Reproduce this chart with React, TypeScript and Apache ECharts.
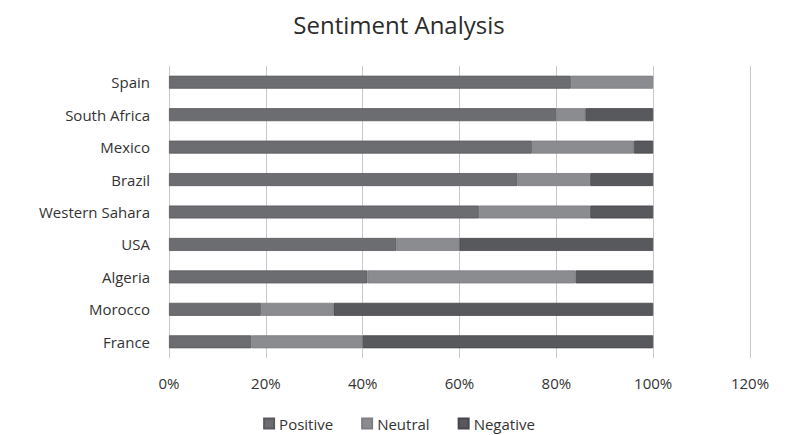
import React, { useEffect, useRef } from "react";
import * as echarts from "echarts";

const categories = ["France", "Morocco", "Algeria", "USA", "Western Sahara", "Brazil", "Mexico", "South Africa", "Spain"];
const positive = [17, 19, 41, 47, 64, 72, 75, 80, 83];
const neutral = [23, 15, 43, 13, 23, 15, 21, 6, 17];
const negative = [60, 66, 16, 40, 13, 13, 4, 14, 0];
const xTicks = [0, 20, 40, 60, 80, 100, 120];

export default function App() {
  const ref = useRef<HTMLDivElement>(null);
  useEffect(() => {
    document.body.style.margin = "0";
    const chart = echarts.init(ref.current!, null, { renderer: "svg" });
    const font = "'Open Sans', sans-serif";
    const mk = (name: string, data: number[], color: string, border: string) => ({
      name,
      type: "bar",
      stack: "total",
      data: data.map((v) => (v === 0 ? "-" : v)),
      barWidth: 13,
      itemStyle: { color, borderColor: border, borderWidth: 0.8 },
    });
    chart.setOption({
      animation: false,
      backgroundColor: "#ffffff",
      title: {
        text: "Sentiment Analysis",
        left: "center",
        top: 7,
        textStyle: { fontFamily: font, fontSize: 24, fontWeight: "normal", color: "#2b2b2b" },
      },
      legend: {
        bottom: -1,
        left: "center",
        itemWidth: 10,
        itemHeight: 10,
        itemGap: 28,
        icon: "rect",
        textStyle: { fontFamily: font, fontSize: 15, color: "#333" },
        data: ["Positive", "Neutral", "Negative"],
      },
      grid: { left: 169, right: 48, top: 66, bottom: 77, containLabel: false },
      xAxis: {
        type: "value",
        min: xTicks[0],
        max: xTicks[xTicks.length - 1],
        interval: 20,
        axisLabel: { formatter: "{value}%", fontFamily: font, fontSize: 15, color: "#333", margin: 17 },
        axisLine: { show: false },
        axisTick: { show: false },
        splitLine: { show: true, lineStyle: { color: "#c9c9cc", width: 1 } },
      },
      yAxis: {
        type: "category",
        data: categories,
        axisLabel: { fontFamily: font, fontSize: 15, color: "#333", margin: 19 },
        axisLine: { show: false },
        axisTick: { show: false },
      },
      series: [
        mk("Positive", positive, "#6c6d70", "#5a5b5e"),
        mk("Neutral", neutral, "#8b8c8f", "#7d7e81"),
        mk("Negative", negative, "#58595c", "#47484b"),
      ],
    });
    return () => chart.dispose();
  }, []);
  return <div ref={ref} style={{ width: 798, height: 435 }} />;
}
